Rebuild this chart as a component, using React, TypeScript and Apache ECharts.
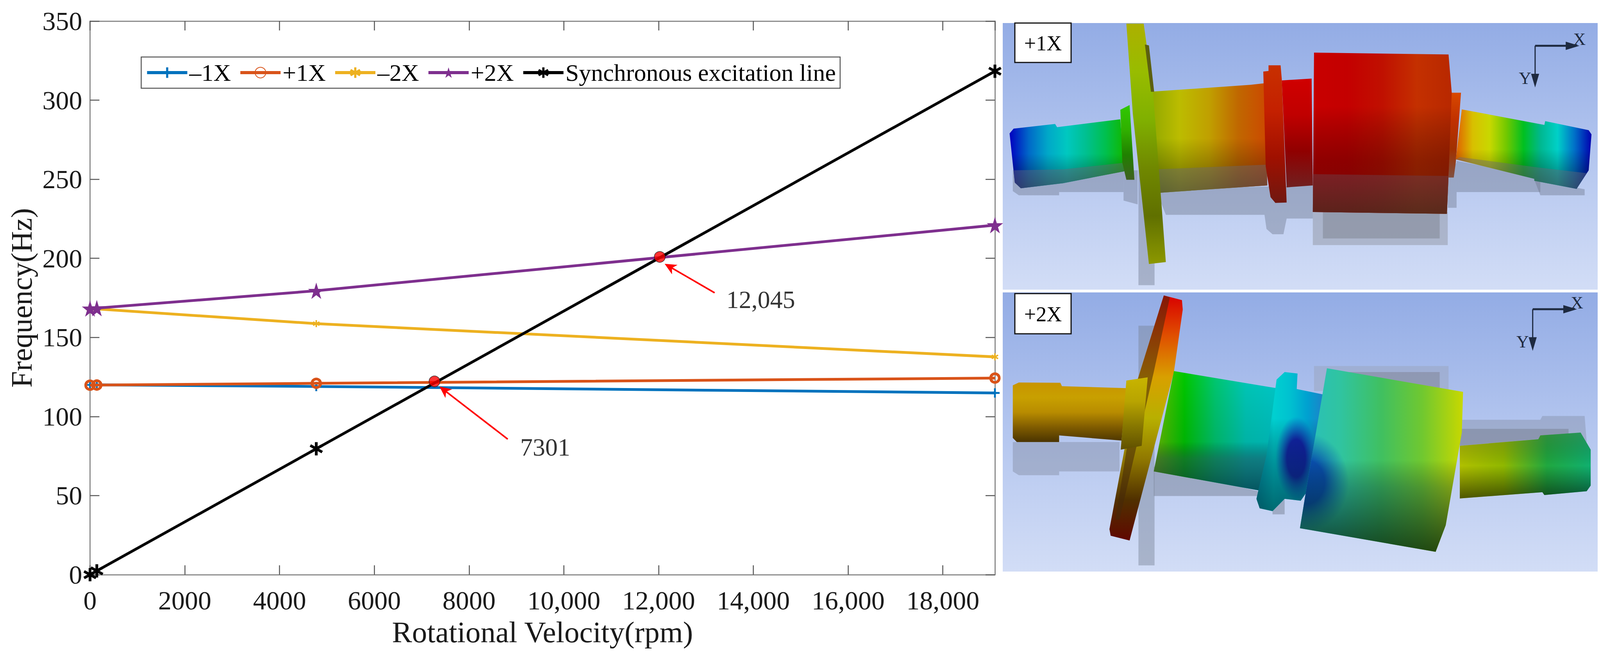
import React, { useEffect, useRef } from "react";
import * as echarts from "echarts";

const FONT = "'Liberation Serif', 'Times New Roman', serif";

const speedRpm = [0, 143, 4775, 19099];
const minus1X = [120, 120, 119, 114.9];
const plus1X = [119.8, 119.9, 121, 124.3];
const minus2X = [168, 168, 158.7, 137.7];
const plus2X = [168.3, 168.5, 179.5, 221];
const syncLine = [0, 2.4, 79.6, 318.3];

const seriesNames = ["\u20131X", "+1X", "\u20132X", "+2X", "Synchronous excitation line"];
const seriesColors = ["#0072BD", "#D95319", "#EDB120", "#7E2F8E", "#000000"];

const criticalSpeeds = [[7270, 122.2], [12025, 200.9]];
const arrowPairs = [
  [[8816, 85.7], [7473, 116.7]],
  [[13183, 178.2], [12235, 194.7]],
];
const noteTexts = ["7301", "12,045"];
const notePoints = [[9079, 80.7], [13430, 174]];

const xTickLabels: Record<number, string> = {
  0: "0", 2000: "2000", 4000: "4000", 6000: "6000", 8000: "8000",
  10000: "10,000", 12000: "12,000", 14000: "14,000", 16000: "16,000", 18000: "18,000",
};

const PLUS = "path://M40 0H60V40H100V60H60V100H40V60H0V40H40Z";
const STAR = "path://M50 0L61 35L98 35L68 57L79 91L50 70L21 91L32 57L2 35L39 35Z";
const ASTER =
  "path://M40 0L60 0L60 100L40 100ZM1.7 33.6L11.7 16.4L98.3 66.4L88.3 83.6ZM11.7 83.6L1.7 66.4L88.3 16.4L98.3 33.6Z";
const ARROW = "path://M50 0L100 100L50 72L0 100Z";

type Pt = [number, number];
const p1 = (x: number, y: number): Pt => [2500 + x / 0.97, y / 2.063];
const p2 = (x: number, y: number): Pt => [2500 + x / 0.97, 730 + y / 2.063];

const grad = (colors: string[], vertical = false) =>
  new echarts.graphic.LinearGradient(0, 0, vertical ? 0 : 1, vertical ? 1 : 0,
    colors.map((c, i) => ({ offset: i / (colors.length - 1), color: c })));
const glow = (x: number, y: number, r: number, color: string, edge: string) =>
  new echarts.graphic.RadialGradient(x, y, r, [
    { offset: 0, color }, { offset: 0.45, color }, { offset: 1, color: edge },
  ]);

const poly = (map: (x: number, y: number) => Pt, pts: number[][], fill: any) => ({
  type: "polygon", silent: true,
  shape: { points: pts.map((q) => map(q[0], q[1])) },
  style: { fill },
});

const SHADOW = "rgba(110,118,140,0.42)";
const PLANE = "rgba(105,105,120,0.42)";
const DARK = grad(["rgba(0,0,0,0)", "rgba(0,0,0,0)", "rgba(0,0,0,0.45)"], true);

const panelFrame = (x: number, y: number, w: number, h: number) => ({
  type: "rect", silent: true, shape: { x, y, width: w, height: h },
  style: { fill: grad(["#93ACE5", "#B4C6EF", "#D2DDF6"], true) },
});

const tagBox = (x: number, y: number, w: number, h: number, t: string) => [
  { type: "rect", silent: true, shape: { x, y, width: w, height: h }, style: { fill: "#fff", stroke: "#111", lineWidth: 3 } },
  { type: "text", silent: true, x: x + w / 2, y: y + h / 2 + 1, style: { text: t, fill: "#000", font: `54px ${FONT}`, align: "center", verticalAlign: "middle" } },
];

const triad = (map: (x: number, y: number) => Pt, cx: number, cy: number) => {
  const C = "#1E2A40";
  const line = (a: Pt, b: Pt, w: number) => ({ type: "line", silent: true, shape: { x1: a[0], y1: a[1], x2: b[0], y2: b[1] }, style: { stroke: C, lineWidth: w } });
  const o = map(cx, cy), e = map(cx + 85, cy), s = map(cx, cy + 170);
  const lx = map(cx + 110, cy - 35), ly = map(cx - 25, cy + 172);
  return [
    line(o, e, 5), line(o, s, 3),
    poly(map, [[cx + 76, cy - 22], [cx + 110, cy], [cx + 76, cy + 22]], C),
    poly(map, [[cx - 10, cy + 148], [cx + 10, cy + 148], [cx, cy + 220]], C),
    { type: "text", silent: true, x: lx[0], y: lx[1], style: { text: "X", fill: C, font: `44px ${FONT}`, align: "center", verticalAlign: "middle" } },
    { type: "text", silent: true, x: ly[0], y: ly[1], style: { text: "Y", fill: C, font: `44px ${FONT}`, align: "center", verticalAlign: "middle" } },
  ];
};

const panelOne = () => {
  const m = p1;
  const rightJ = [[1205, 578], [1410, 660], [1412, 640], [1520, 688], [1527, 710], [1520, 900], [1490, 998], [1385, 955], [1385, 945], [1190, 842]];
  return [
    panelFrame(2567, 59, 1523, 683),
    poly(m, [[90, 900], [205, 900], [205, 1032], [105, 1032], [90, 1010]], SHADOW),
    poly(m, [[205, 940], [365, 885], [365, 1015], [205, 1015]], SHADOW),
    poly(m, [[365, 900], [400, 900], [400, 1080], [365, 1060]], SHADOW),
    poly(m, [[402, 900], [442, 900], [442, 1507], [402, 1507]], SHADOW),
    poly(m, [[445, 1000], [835, 980], [835, 1155], [770, 1155], [762, 1238], [735, 1238], [720, 1210], [715, 1135], [470, 1135]], SHADOW),
    poly(m, [[835, 1120], [1170, 1120], [1170, 1295], [835, 1295]], "rgba(150,155,170,0.55)"),
    poly(m, [[860, 1120], [1150, 1120], [1150, 1260], [860, 1260]], "rgba(130,135,150,0.55)"),
    poly(m, [[1170, 930], [1192, 860], [1192, 1098], [1170, 1098]], SHADOW),
    poly(m, [[1192, 850], [1400, 935], [1400, 1015], [1192, 1015]], SHADOW),
    poly(m, [[1385, 950], [1510, 1000], [1510, 1032], [1400, 1032]], SHADOW),
    // left journal
    poly(m, [[82, 705], [92, 680], [195, 655], [200, 672], [357, 630], [367, 905], [215, 968], [110, 995], [95, 965]],
      grad(["#0000C0", "#0068C8", "#00A8C8", "#00C8C0", "#00C090", "#00C050", "#10B800"])),
    poly(m, [[82, 705], [92, 680], [195, 655], [200, 672], [357, 630], [367, 905], [215, 968], [110, 995], [95, 965]], DARK),
    poly(m, [[92, 900], [215, 895], [367, 860], [367, 905], [215, 968], [110, 995], [95, 965]], PLANE),
    poly(m, [[357, 580], [380, 555], [392, 950], [372, 950], [362, 860]], grad(["#30C800", "#30B000", "#208000", "#406020"], true)),
    // stepped sleeve
    poly(m, [[432, 485], [680, 448], [715, 440], [722, 980], [445, 1020]],
      grad(["#90A800", "#BCBC00", "#C0A000", "#C06800", "#CC4800"])),
    poly(m, [[432, 485], [680, 448], [715, 440], [722, 980], [445, 1020]], DARK),
    poly(m, [[445, 895], [720, 870], [722, 980], [445, 1020]], PLANE),
    // thrust disc
    poly(m, [[372, 125], [415, 125], [438, 480], [470, 1385], [428, 1395], [388, 600]],
      grad(["#ACB000", "#98BC00", "#80B000", "#708800", "#607000", "#8C9800"], true)),
    poly(m, [[418, 235], [428, 240], [441, 485], [433, 485]], "#5C6010"),
    // collars and rotor
    poly(m, [[712, 378], [725, 375], [725, 345], [755, 345], [758, 420], [770, 1070], [742, 1072], [730, 1042], [718, 880]],
      grad(["#C83000", "#C42000", "#A01000", "#701810"], true)),
    poly(m, [[758, 425], [832, 415], [835, 980], [770, 990]], grad(["#D00000", "#C00000", "#900000", "#702020"], true)),
    poly(m, [[1172, 490], [1203, 490], [1190, 860], [1185, 938], [1172, 938]], grad(["#D84800", "#C03000", "#A03000", "#805040"], true)),
    poly(m, [[838, 278], [1172, 288], [1180, 490], [1172, 930], [1168, 1130], [835, 1120]],
      grad(["#C80000", "#C40000", "#C01000", "#C43000", "#B82800"])),
    poly(m, [[838, 278], [1172, 288], [1180, 490], [1172, 930], [1168, 1130], [835, 1120]],
      grad(["rgba(0,0,0,0)", "rgba(0,0,0,0)", "rgba(40,0,0,0.35)", "rgba(60,20,10,0.55)"], true)),
    poly(m, [[835, 920], [1172, 930], [1168, 1130], [835, 1120]], grad(["rgba(110,60,70,0.5)", "rgba(70,50,40,0.6)"], true)),
    // right journal
    poly(m, rightJ, grad(["#E06000", "#D8C000", "#C8D800", "#70C800", "#00C020", "#00B890", "#00D0C8", "#0070C8", "#0000B0"])),
    poly(m, rightJ, DARK),
    poly(m, [[1190, 842], [1200, 830], [1395, 885], [1515, 915], [1490, 998], [1385, 955], [1385, 945]], PLANE),
    ...tagBox(2598, 59, 144, 101, "+1X"),
    ...triad(m, 1387, 242),
  ];
};

const panelTwo = () => {
  const m = p2;
  const rotor = [[870, 440], [1208, 565], [1205, 780], [1165, 1270], [1140, 1410], [803, 1285], [825, 1000]];
  const sleeve = [[490, 455], [715, 535], [745, 545], [735, 1135], [700, 1085], [440, 985]];
  const collar = [[745, 500], [765, 460], [797, 468], [795, 550], [865, 580], [850, 1000], [805, 1140], [765, 1130], [735, 1195], [703, 1180], [695, 1130], [720, 900]];
  const rightShaft = [[1200, 850], [1395, 815], [1400, 795], [1500, 780], [1525, 870], [1525, 1060], [1515, 1090], [1410, 1110], [1405, 1095], [1200, 1128]];
  return [
    panelFrame(2567, 749, 1523, 715),
    poly(m, [[90, 830], [355, 830], [355, 985], [205, 985], [205, 1005], [105, 1005], [90, 985]], "rgba(120,130,150,0.38)"),
    poly(m, [[402, 215], [442, 215], [442, 1482], [402, 1482]], "rgba(120,130,150,0.45)"),
    poly(m, [[838, 428], [1172, 428], [1172, 560], [838, 560]], "rgba(150,155,170,0.35)"),
    poly(m, [[880, 460], [1150, 460], [1150, 550], [880, 550]], "rgba(125,130,145,0.5)"),
    poly(m, [[1200, 712], [1400, 712], [1405, 692], [1510, 692], [1515, 830], [1200, 850]], "rgba(120,130,150,0.35)"),
    poly(m, [[1200, 760], [1470, 760], [1470, 800], [1200, 850]], "rgba(110,115,130,0.4)"),
    poly(m, [[440, 960], [700, 1090], [700, 1115], [440, 1115]], "rgba(120,130,150,0.5)"),
    poly(m, [[735, 1100], [765, 1100], [765, 1212], [735, 1212]], "rgba(120,130,150,0.5)"),
    // left journal
    poly(m, [[90, 530], [105, 515], [208, 517], [212, 535], [372, 545], [360, 822], [205, 795], [205, 830], [100, 830], [90, 808]],
      grad(["#C89400", "#C8A000", "#B88C00", "#805C00", "#4A3400"], true)),
    // disc
    poly(m, [[465, 55], [510, 80], [512, 130], [490, 460], [380, 1350], [333, 1325], [330, 1290], [400, 500]],
      grad(["#D80000", "#E05000", "#D8A000", "#B8B000", "#907800", "#503000", "#600800"], true)),
    poly(m, [[465, 55], [480, 65], [440, 460], [355, 1240], [345, 1240], [400, 500]], "rgba(70,40,10,0.55)"),
    poly(m, [[372, 505], [425, 488], [410, 850], [358, 870]], grad(["#C8B400", "#B8A400", "#887800", "#605000"], true)),
    // sleeve
    poly(m, sleeve, grad(["#70C000", "#00C800", "#00C870", "#00C8B8", "#00C8C8"])),
    poly(m, sleeve, new echarts.graphic.LinearGradient(0, 0, 0, 1, [
      { offset: 0, color: "rgba(0,0,0,0)" }, { offset: 0.55, color: "rgba(0,20,30,0.12)" },
      { offset: 0.68, color: "rgba(30,50,70,0.5)" }, { offset: 1, color: "rgba(0,30,50,0.75)" },
    ])),
    // collars
    poly(m, collar, grad(["#00A0B0", "#00D0D0", "#00C0D0", "#00A0D0", "#2080C8"])),
    poly(m, collar, glow(0.58, 0.62, 0.3, "rgba(20,20,170,0.9)", "rgba(20,60,200,0)")),
    poly(m, collar, grad(["rgba(0,0,0,0)", "rgba(0,0,0,0)", "rgba(0,30,50,0.35)", "rgba(0,40,50,0.6)"], true)),
    // rotor
    poly(m, rotor, grad(["#28C0C0", "#30C4A0", "#40C060", "#70C830", "#C8D800"])),
    poly(m, rotor, glow(0.03, 0.62, 0.27, "rgba(0,50,170,0.8)", "rgba(0,80,170,0)")),
    poly(m, rotor, new echarts.graphic.LinearGradient(0, 0, 0, 1, [
      { offset: 0, color: "rgba(0,0,0,0)" }, { offset: 0.5, color: "rgba(0,0,0,0)" },
      { offset: 0.65, color: "rgba(0,30,40,0.3)" }, { offset: 1, color: "rgba(10,40,10,0.8)" },
    ])),
    // right journal
    poly(m, rightShaft, grad(["#B0C000", "#90B800", "#20A840", "#10B070"])),
    poly(m, rightShaft, grad(["rgba(90,90,60,0.3)", "rgba(0,0,0,0)", "rgba(0,0,0,0.55)"], true)),
    ...tagBox(2598, 752, 144, 103, "+2X"),
    ...triad(m, 1381, 128),
  ];
};

const pairs = (ys: number[]) => speedRpm.map((x, i) => [x, ys[i]]);

const lineSeries = (i: number, ys: number[], symbol: string, size: number, item: any = {}) => ({
  name: seriesNames[i], type: "line", data: pairs(ys), symbol, symbolSize: size,
  showSymbol: true, showAllSymbol: true, clip: false, z: 3 + i,
  lineStyle: { color: seriesColors[i], width: 7 },
  itemStyle: { color: seriesColors[i], ...item },
});

export default function App() {
  const ref = useRef<HTMLDivElement>(null);
  useEffect(() => {
    document.body.style.margin = "0";
    document.body.style.overflow = "hidden";
    const chart = echarts.init(ref.current!, null, { renderer: "svg" });
    const axisGray = "#8C8C8C";
    const tick = { show: true, inside: true, length: 24, lineStyle: { color: "#555", width: 2.5 } };
    const line = { show: true, onZero: false, lineStyle: { color: axisGray, width: 3 } };
    const label = { color: "#1A1A1A", fontFamily: FONT, fontSize: 68 };
    chart.setOption({
      animation: false,
      backgroundColor: "#fff",
      grid: { left: 230.5, top: 54, width: 2316.5, height: 1418, containLabel: false },
      legend: {
        data: seriesNames, left: 361.5, top: 146, orient: "horizontal", itemWidth: 103, itemHeight: 34,
        itemGap: 20, padding: [9, 11, 9, 11], borderColor: "#555", borderWidth: 2.5, backgroundColor: "#fff",
        lineStyle: { width: 8 },
        textStyle: { fontFamily: FONT, fontSize: 62, color: "#000" },
      },
      xAxis: [
        {
          type: "value", min: 0, max: 19099, interval: 2000, position: "bottom",
          name: "Rotational Velocity(rpm)", nameLocation: "middle", nameGap: 108,
          nameTextStyle: { fontFamily: FONT, fontSize: 77, color: "#1A1A1A" },
          axisLine: line, axisTick: tick, splitLine: { show: false },
          axisLabel: { ...label, margin: 32, showMaxLabel: false, hideOverlap: false, formatter: (v: number) => xTickLabels[v] ?? "" },
        },
        {
          type: "value", min: 0, max: 19099, interval: 2000, position: "top",
          axisLine: line, axisTick: tick, splitLine: { show: false }, axisLabel: { show: false },
        },
      ],
      yAxis: [
        {
          type: "value", min: 0, max: 350, interval: 50, position: "left",
          name: "Frequency(Hz)", nameLocation: "middle", nameGap: 138, nameRotate: 90,
          nameTextStyle: { fontFamily: FONT, fontSize: 76, color: "#1A1A1A" },
          axisLine: line, axisTick: tick, splitLine: { show: false },
          axisLabel: { ...label, margin: 20 },
        },
        {
          type: "value", min: 0, max: 350, interval: 50, position: "right",
          axisLine: line, axisTick: tick, splitLine: { show: false }, axisLabel: { show: false },
        },
      ],
      series: [
        lineSeries(0, minus1X, PLUS, 24),
        lineSeries(1, plus1X, "circle", 22, { color: "rgba(0,0,0,0)", borderColor: seriesColors[1], borderWidth: 7 }),
        lineSeries(2, minus2X, ASTER, 18),
        lineSeries(3, plus2X, STAR, 42),
        lineSeries(4, syncLine, ASTER, 34),
        {
          name: "Critical speed", type: "scatter", data: criticalSpeeds, symbol: "circle", symbolSize: 28, z: 10, clip: false,
          itemStyle: { color: "#FF0000", borderColor: "#1A1A1A", borderWidth: 1.5 },
          markLine: {
            silent: true, symbol: ["none", ARROW], symbolSize: [28, 30], animation: false, label: { show: false },
            lineStyle: { color: "#FF0000", width: 4, type: "solid" }, z: 11,
            data: arrowPairs.map((p) => [{ coord: p[0] }, { coord: p[1] }]),
          },
        },
        {
          name: "Annotations", type: "scatter", symbolSize: 0, z: 12, clip: false,
          data: notePoints.map((p, i) => ({ value: p, text: noteTexts[i] })),
          label: {
            show: true, position: "right", distance: 0, fontFamily: FONT, fontSize: 64, color: "#000",
            formatter: (p: any) => p.data.text,
          },
        },
      ],
      graphic: { elements: [...panelOne(), ...panelTwo()] },
    });
    return () => chart.dispose();
  }, []);
  return <div ref={ref} style={{ position: "absolute", left: 0, top: 0, width: 4116, height: 1688 }} />;
}
